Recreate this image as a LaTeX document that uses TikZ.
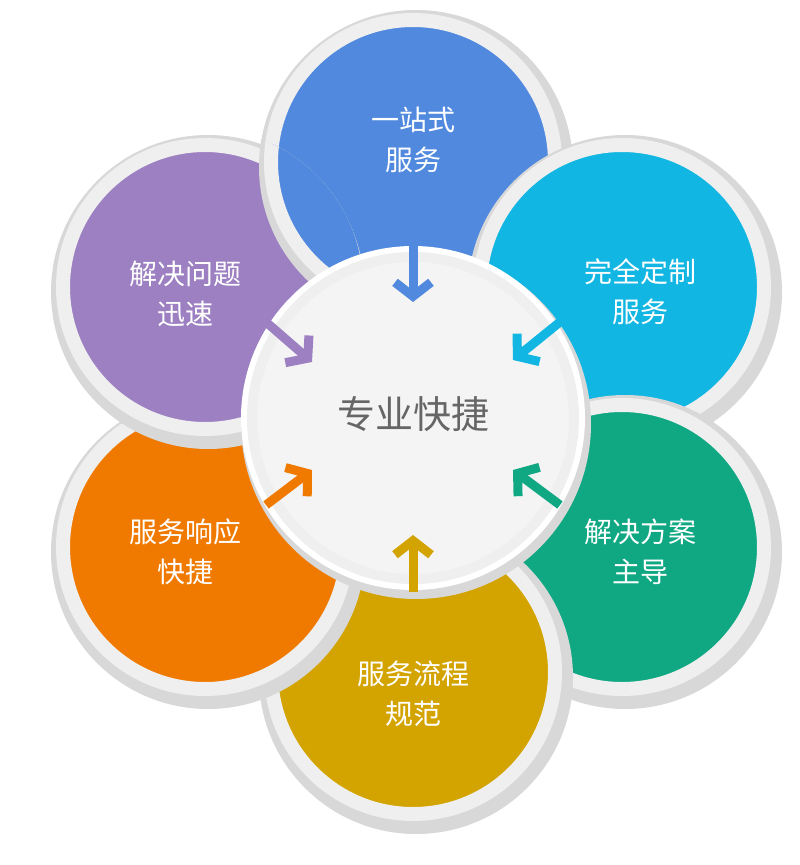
\documentclass[tikz,border=0pt]{standalone}
\usepackage{fontspec}
\newfontfamily\cjk{Noto Sans CJK SC}
\usetikzlibrary{arrows.meta}
\definecolor{cblue}{HTML}{5089DE}
\definecolor{ccyan}{HTML}{12B6E2}
\definecolor{cgreen}{HTML}{10A883}
\definecolor{cyellow}{HTML}{D3A300}
\definecolor{corange}{HTML}{F07A00}
\definecolor{cpurple}{HTML}{9C80C2}
\definecolor{ring}{HTML}{EFEFEF}
\definecolor{shade}{HTML}{D8D8D8}
\definecolor{ctext}{HTML}{666666}
\tikzset{
  petal/.style={circle,minimum size=284pt,inner sep=0pt,draw=ring,line width=14pt,fill=#1},
  halo/.style={circle,fill=shade,minimum size=314pt,inner sep=0pt},
  lbl/.style={text=white,font=\cjk\fontsize{28}{40}\selectfont,align=center},
  arr/.style={line width=9pt,draw=#1,-{Straight Barb[length=14pt,width=36pt,line width=9pt]}}
}
\begin{document}
\begin{tikzpicture}[x=1pt,y=-1pt]
\useasboundingbox (0,0) rectangle (800,865);
\fill[white] (0,0) rectangle (800,865);
\coordinate (pb) at (413,162);
\coordinate (pc) at (622,287);
\coordinate (pg) at (622,547);
\coordinate (py) at (413,672);
\coordinate (po) at (205,547);
\coordinate (pp) at (205,287);
\foreach \p/\n/\c in {pb/blue/cblue,pc/cyan/ccyan,pg/green/cgreen,py/yellow/cyellow,po/orange/corange,pp/purple/cpurple}{
  \node[halo] at ([shift={(3,5)}]\p) {};
  \node[petal=\c] (\n) at (\p) {};
}
\begin{scope}
  \clip (pp) circle (158pt);
  \clip (200,0) rectangle (420,330);
  \node[halo] at ([shift={(3,5)}]pb) {};
  \node[petal=cblue] at (pb) {};
\end{scope}
\node[circle,fill=shade,minimum size=350pt] at (416,424) {};
\node[circle,fill=white,minimum size=344pt] at (413,418) {};
\node[circle,fill=ring!70!white,draw=ring,line width=10pt,minimum size=322pt] (ctr) at (413,418) {};
\node[text=ctext,font=\cjk\fontsize{38}{44}\selectfont] at (413,414) {专业快捷};
\node[lbl] at (413,140) {一站式\\服务};
\node[lbl] at (640,292) {完全定制\\服务};
\node[lbl] at (640,552) {解决方案\\主导};
\node[lbl] at (413,694) {服务流程\\规范};
\node[lbl] at (185,552) {服务响应\\快捷};
\node[lbl] at (185,294) {解决问题\\迅速};
\coordinate (a1s) at (413,245); \coordinate (a1e) at (413,302);
\coordinate (a2s) at (560,322); \coordinate (a2e) at (513,360);
\coordinate (a3s) at (560,505); \coordinate (a3e) at (513,470);
\coordinate (a4s) at (413,592); \coordinate (a4e) at (413,535);
\coordinate (a5s) at (266,505); \coordinate (a5e) at (312,470);
\coordinate (a6s) at (266,322); \coordinate (a6e) at (312,362);
\draw[arr=cblue] (a1s) -- (a1e);
\draw[arr=ccyan] (a2s) -- (a2e);
\draw[arr=cgreen] (a3s) -- (a3e);
\draw[arr=cyellow] (a4s) -- (a4e);
\draw[arr=corange] (a5s) -- (a5e);
\draw[arr=cpurple] (a6s) -- (a6e);
\end{tikzpicture}
\end{document}
